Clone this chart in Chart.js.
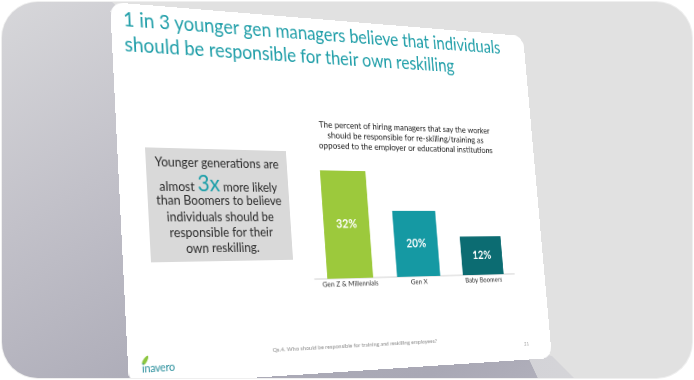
<!DOCTYPE html>
<html>
<head>
<meta charset="utf-8">
<script src="https://cdn.jsdelivr.net/npm/chart.js@4.4.1/dist/chart.umd.min.js"></script>
<style>
  html, body { margin: 0; padding: 0; background: #ffffff; }
  body { width: 694px; height: 380px; position: relative; overflow: hidden; font-family: Lato, "Open Sans", sans-serif; }
  #bg { position: absolute; left: 2px; top: 2px; width: 690px; height: 376px; border-radius: 36px;
        background: #e1e1e1; overflow: hidden; box-shadow: 0 0 0 1px #efefef; }
  .shade { position: absolute; left: 0; top: 0; width: 690px; height: 376px; }
  #shadeMain { background: linear-gradient(150deg, #d7d7da 0%, #c2c1c9 30%, #adacb8 60%, #a9a8b5 80%, #b9b8c2 100%);
               clip-path: polygon(0px 0px, 110px 0px, 523px 348px, 536px 376px, 0px 376px); }
  #shadeWedge { background: linear-gradient(90deg, #c4c3cb 0%, #d8d8db 100%);
               clip-path: polygon(523px 348px, 550px 354px, 572px 376px, 536px 376px); }
  #slide { position: absolute; left: 0; top: 0; width: 512px; height: 384px; background: #ffffff;
           border-radius: 14px; transform-origin: 0 0; overflow: hidden; }
  .abs { position: absolute; white-space: nowrap; }
  #title { left: 13px; top: 3px; font-size: 20.3px; line-height: 26px; color: #1f9ea8; }
  #box { left: 29px; top: 148px; width: 157px; height: 116px; background: #d9d9d9; }
  .bl { position: absolute; left: 0; width: 157px; text-align: center; font-size: 13px; line-height: 16px; color: #2a2a2a; }
  .big { font-size: 23px; color: #1a9ea8; line-height: 16px; }
  #chartWrap { left: 200px; top: 105px; width: 280px; height: 200px; }
  #footer { left: 0; width: 512px; top: 352px; text-align: center; font-size: 6.5px; line-height: 9px; color: #8c8c8c; }
  #pageNo { left: 474px; top: 362px; font-size: 6px; line-height: 8px; color: #9a9a9a; }
  #logo { left: 14px; top: 362px; font-size: 11px; line-height: 12px; color: #2a8f9c; letter-spacing: -0.2px; }
  #leaf { left: 16px; top: 355px; width: 4px; height: 10px; background: #8cc63f; border-radius: 50% 50% 50% 50% / 70% 70% 30% 30%; transform: rotate(35deg); }
</style>
</head>
<body>
<div id="bg">
  <div class="shade" id="shadeMain"></div>
  <div class="shade" id="shadeWedge"></div>
  <div id="slide">
    <div class="abs" id="title">1 in 3 younger gen managers believe that individuals<br>should be responsible for their own reskilling</div>
    <div class="abs" id="box">
      <div class="bl" style="top:5.5px">Younger generations are</div>
      <div class="bl" style="top:27px">almost <span class="big">3x</span> more likely</div>
      <div class="bl" style="top:45px">than Boomers to believe</div>
      <div class="bl" style="top:61.5px">individuals should be</div>
      <div class="bl" style="top:78px">responsible for their</div>
      <div class="bl" style="top:94px">own reskilling.</div>
    </div>
    <div class="abs" id="chartWrap"><canvas id="c" width="280" height="200"></canvas></div>
    <div class="abs" id="footer">Qs.4. Who should be responsible for training and reskilling employees?</div>
    <div class="abs" id="pageNo">21</div>
    <div class="abs" id="leaf"></div>
    <div class="abs" id="logo">inavero</div>
  </div>
</div>
<script>
// ---- data ----
const categories = ['Gen Z & Millennials', 'Gen X', 'Baby Boomers'];
const values = [32, 20, 12];
const chartTitleLines = [
  'The percent of hiring managers that say the worker',
  'should be responsible for re-skilling/training as',
  'opposed to the employer or educational institutions'
];
const yMax = 35;

// ---- perspective placement of the slide (rect W x H -> quad) ----
function homography(W, H, p) {
  const [x0, y0] = p[0], [x1, y1] = p[1], [x2, y2] = p[2], [x3, y3] = p[3];
  const dx1 = x1 - x2, dx2 = x3 - x2, dx3 = x0 - x1 + x2 - x3;
  const dy1 = y1 - y2, dy2 = y3 - y2, dy3 = y0 - y1 + y2 - y3;
  const den = dx1 * dy2 - dx2 * dy1;
  const g = (dx3 * dy2 - dx2 * dy3) / den;
  const h = (dx1 * dy3 - dx3 * dy1) / den;
  const a = x1 - x0 + g * x1, b = x3 - x0 + h * x3, c = x0;
  const d = y1 - y0 + g * y1, e = y3 - y0 + h * y3, f = y0;
  return [a / W, d / W, 0, g / W, b / H, e / H, 0, h / H, 0, 0, 1, 0, c, f, 0, 1];
}
const quad = [[108, 0], [521, 34], [550, 356], [127, 384]];
document.getElementById('slide').style.transform = 'matrix3d(' + homography(512, 384, quad).join(',') + ')';

// ---- chart ----
const valueLabels = {
  id: 'valueLabels',
  afterDatasetsDraw(chart) {
    const ctx = chart.ctx;
    const meta = chart.getDatasetMeta(0);
    meta.data.forEach((bar, i) => {
      const v = chart.data.datasets[0].data[i];
      ctx.save();
      ctx.fillStyle = '#ffffff';
      ctx.font = 'bold 13px Lato';
      ctx.textAlign = 'center';
      ctx.textBaseline = 'middle';
      ctx.fillText(v + '%', bar.x, (bar.y + bar.base) / 2);
      ctx.restore();
    });
  }
};

new Chart(document.getElementById('c'), {
  type: 'bar',
  data: {
    labels: categories,
    datasets: [{
      data: values,
      backgroundColor: ['#9cc93c', '#1599a3', '#0c6c72'],
      borderWidth: 0,
      barPercentage: 0.65,
      categoryPercentage: 1.0
    }]
  },
  options: {
    responsive: false,
    animation: false,
    devicePixelRatio: 2,
    layout: { padding: { left: 10, right: 11, top: 0, bottom: 0 } },
    plugins: {
      legend: { display: false },
      tooltip: { enabled: false },
      title: {
        display: true,
        text: chartTitleLines,
        color: '#1e1e1e',
        font: { family: 'Lato', size: 10, lineHeight: 1.15, weight: 'normal' },
        padding: { top: 7, bottom: 10.5 }
      }
    },
    scales: {
      x: {
        grid: { display: false, drawTicks: false },
        border: { display: true, color: '#cfcfcf', width: 1 },
        ticks: { color: '#333333', font: { family: 'Lato', size: 8 }, padding: 1 },
        afterFit(s) { s.height = 20; }
      },
      y: { display: false, min: 0, max: yMax }
    }
  },
  plugins: [valueLabels]
});
</script>
</body>
</html>
